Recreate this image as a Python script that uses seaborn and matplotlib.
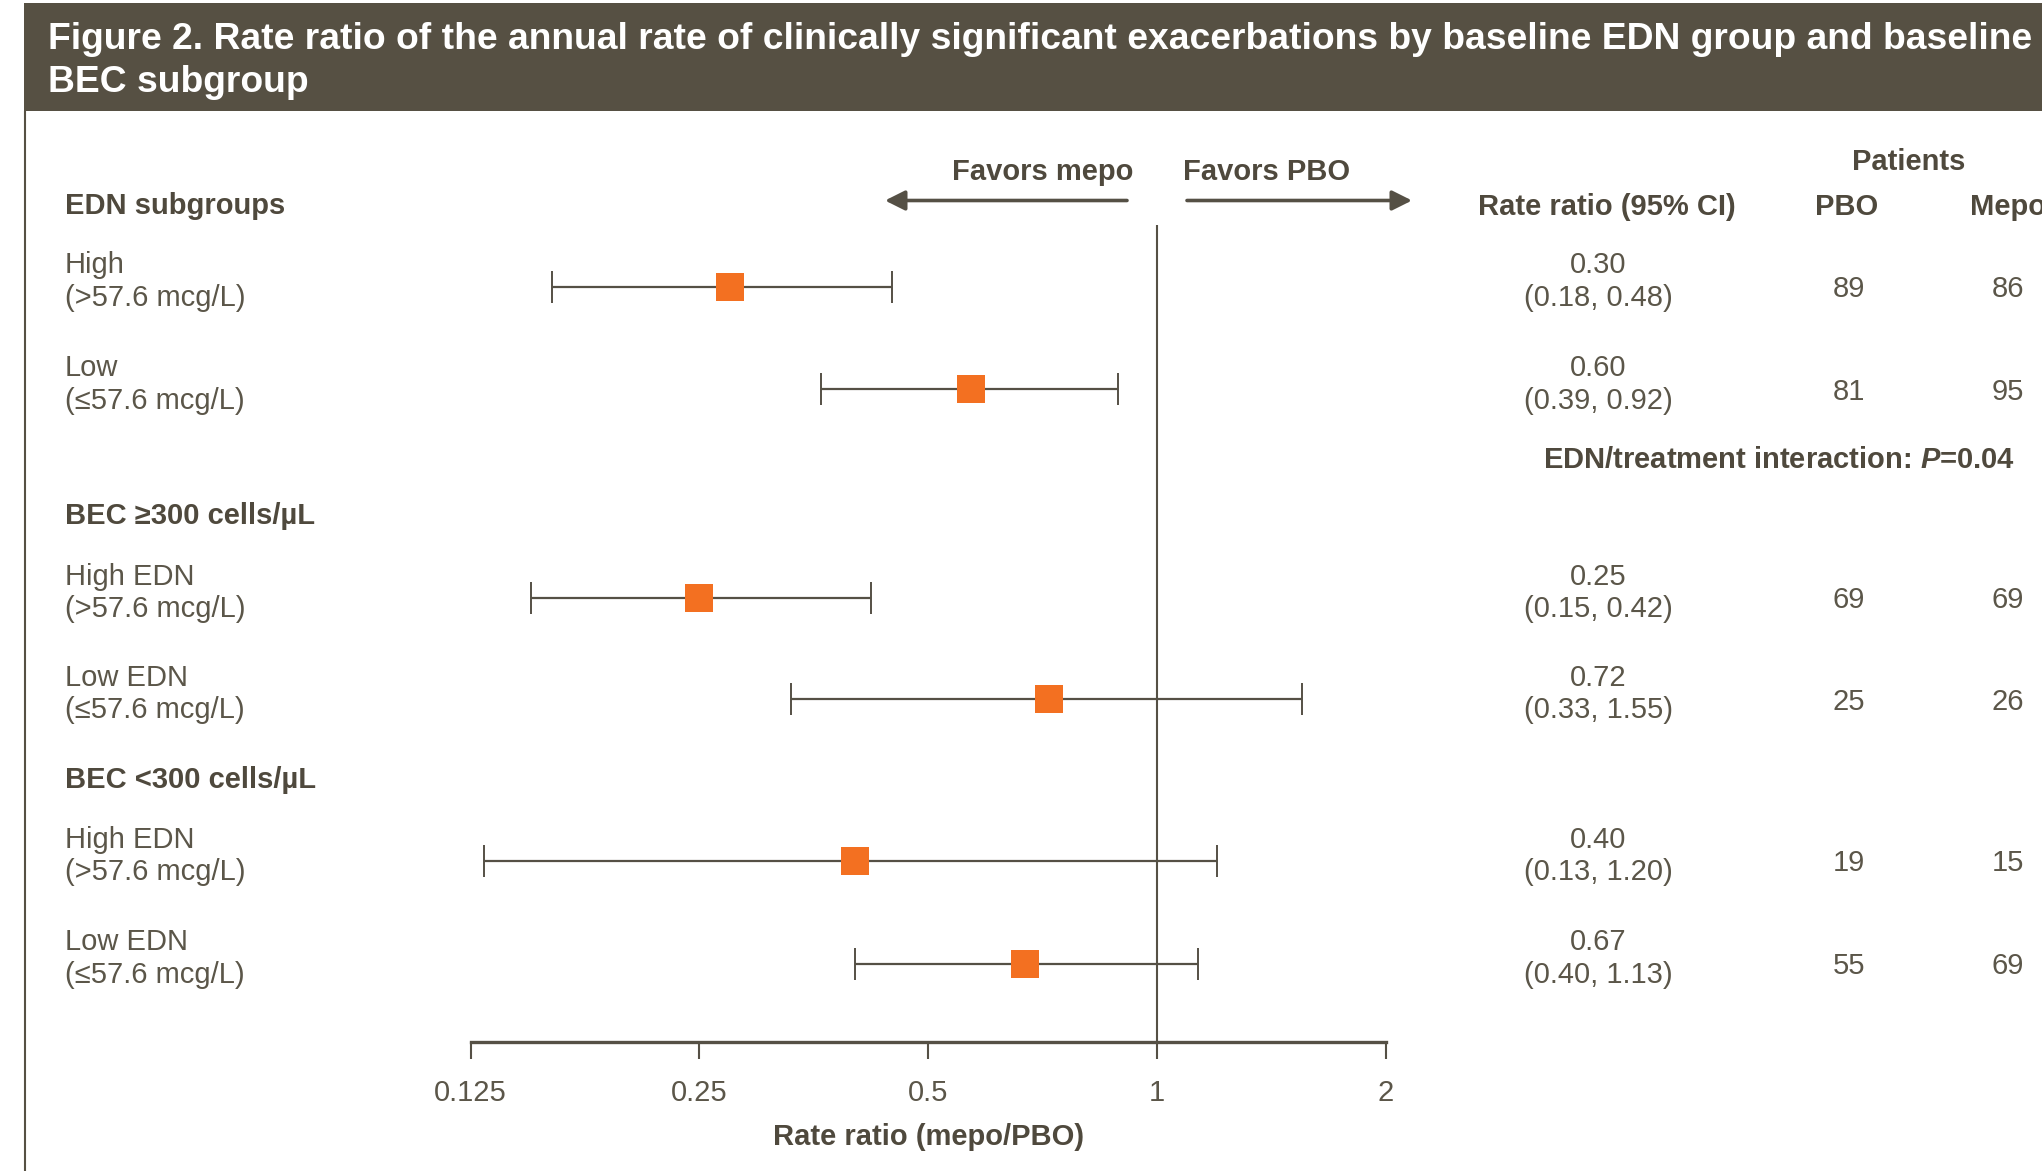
import numpy as np
import pandas as pd
import matplotlib.pyplot as plt
import seaborn as sns
from matplotlib.patches import Rectangle

title = ("Figure 2. Rate ratio of the annual rate of clinically significant exacerbations by baseline EDN group and baseline\n"
         "BEC subgroup")
section_labels = ["EDN subgroups", "BEC \u2265300 cells/\u00b5L", "BEC <300 cells/\u00b5L"]
row_labels = ["High\n(>57.6 mcg/L)", "Low\n(\u226457.6 mcg/L)",
              "High EDN\n(>57.6 mcg/L)", "Low EDN\n(\u226457.6 mcg/L)",
              "High EDN\n(>57.6 mcg/L)", "Low EDN\n(\u226457.6 mcg/L)"]

# estimates and 95% CI as drawn on the log axis
rate_ratio = [0.274, 0.569, 0.25, 0.72, 0.40, 0.67]
ci_low = [0.160, 0.361, 0.15, 0.33, 0.13, 0.40]
ci_high = [0.448, 0.889, 0.42, 1.55, 1.20, 1.13]

# printed table
rr_text = ["0.30", "0.60", "0.25", "0.72", "0.40", "0.67"]
ci_text = ["(0.18, 0.48)", "(0.39, 0.92)", "(0.15, 0.42)",
           "(0.33, 1.55)", "(0.13, 1.20)", "(0.40, 1.13)"]
n_pbo = [89, 81, 69, 25, 19, 55]
n_mepo = [86, 95, 69, 26, 15, 69]

tick_values = [0.125, 0.25, 0.5, 1, 2]
tick_labels = ["0.125", "0.25", "0.5", "1", "2"]
interaction_text = "EDN/treatment interaction: $P$=0.04"

# colours
BAR = "#565043"
LINE = "#555045"
HEAD = "#4f493d"
TEXT = "#5b5649"
ORANGE = "#f37021"

# layout, in pixels of the 2042x1171 canvas
W, H = 2042, 1171
row_y = [286.5, 389.4, 597.8, 699.3, 860.8, 963.7]
section_y = [206.5, 516, 779.5]
x0, x1 = 470.6, 1386
y_top, y_bot = 225.3, 1041.8

sns.set_theme(style="white")
plt.rcParams["font.family"] = ["Liberation Sans", "DejaVu Sans"]
plt.rcParams["mathtext.fontset"] = "custom"
plt.rcParams["mathtext.it"] = "Liberation Sans:italic:bold"
plt.rcParams["mathtext.rm"] = "Liberation Sans:bold"

fig = plt.figure(figsize=(W / 100, H / 100), dpi=100)

lay = fig.add_axes([0, 0, 1, 1], zorder=0)
lay.set_xlim(0, W)
lay.set_ylim(H, 0)
lay.axis("off")

ax = fig.add_axes([x0 / W, 1 - y_bot / H, (x1 - x0) / W, (y_bot - y_top) / H], zorder=1)
ax.patch.set_alpha(0)

df = pd.DataFrame({"rr": rate_ratio, "lo": ci_low, "hi": ci_high, "y": row_y})

ax.axvline(1, color=LINE, lw=1.5, zorder=1)
ax.errorbar(df["rr"], df["y"], xerr=[df["rr"] - df["lo"], df["hi"] - df["rr"]],
            fmt="none", ecolor=LINE, elinewidth=1.6, capsize=11.5, capthick=1.4, zorder=2)
sns.scatterplot(data=df, x="rr", y="y", marker="s", s=400, color=ORANGE,
                linewidth=0, ax=ax, zorder=3, legend=False)

ax.set_xscale("log", base=2)
ax.set_xlim(0.125, 2)
ax.set_ylim(y_bot, y_top)
ax.set_xticks(tick_values)
ax.set_xticklabels(tick_labels)
ax.minorticks_off()
ax.set_yticks([])
for s in ["top", "right", "left"]:
    ax.spines[s].set_visible(False)
ax.spines["bottom"].set_linewidth(2.4)
ax.spines["bottom"].set_color(LINE)
ax.tick_params(axis="x", bottom=True, direction="out", length=12, width=1.5,
               color=LINE, labelsize=21, labelcolor=TEXT, pad=15)
ax.set_ylabel("")
ax.set_xlabel("Rate ratio (mepo/PBO)", fontsize=21, fontweight="bold", color=HEAD, labelpad=11)

# title bar and frame
lay.add_patch(Rectangle((24, 3), W - 24, 108, color=BAR, lw=0))
lay.text(48, 61, title, color="white", fontsize=26.8, fontweight="bold",
         ha="left", va="center", linespacing=1.29)
lay.plot([25, 25], [111, H], color=BAR, lw=1.5)

# favours arrows
lay.text(1133, 172, "Favors mepo", ha="right", va="center", fontsize=21, fontweight="bold", color=HEAD)
lay.text(1182.5, 172, "Favors PBO", ha="left", va="center", fontsize=21, fontweight="bold", color=HEAD)
arrow = dict(arrowstyle="-|>,head_length=0.6,head_width=0.3", lw=2.6, color=LINE,
             shrinkA=0, shrinkB=0, mutation_scale=20)
lay.annotate("", xy=(885, 200.5), xytext=(1127, 200.5), arrowprops=arrow)
lay.annotate("", xy=(1412, 200.5), xytext=(1187, 200.5), arrowprops=arrow)

# column headers
lay.text(1607, 207, "Rate ratio (95% CI)", ha="center", va="center", fontsize=21, fontweight="bold", color=HEAD)
lay.text(1909, 161.5, "Patients", ha="center", va="center", fontsize=21, fontweight="bold", color=HEAD)
lay.text(1847, 207, "PBO", ha="center", va="center", fontsize=21, fontweight="bold", color=HEAD)
lay.text(2008, 207, "Mepo", ha="center", va="center", fontsize=21, fontweight="bold", color=HEAD)

for lbl, sy in zip(section_labels, section_y):
    lay.text(65, sy, lbl, ha="left", va="center", fontsize=21, fontweight="bold", color=HEAD)

for i, y in enumerate(row_y):
    lay.text(65, y - 5, row_labels[i], ha="left", va="center", fontsize=21, color=TEXT, linespacing=1.2)
    lay.text(1598, y - 5, rr_text[i] + "\n" + ci_text[i], ha="center", va="center",
             fontsize=21, color=TEXT, linespacing=1.2)
    lay.text(1849, y + 2.5, str(n_pbo[i]), ha="center", va="center", fontsize=21, color=TEXT)
    lay.text(2008, y + 2.5, str(n_mepo[i]), ha="center", va="center", fontsize=21, color=TEXT)

lay.text(1779, 459.5, interaction_text, ha="center", va="center", fontsize=21, fontweight="bold", color=HEAD)

fig.savefig("out.png", dpi=100)
